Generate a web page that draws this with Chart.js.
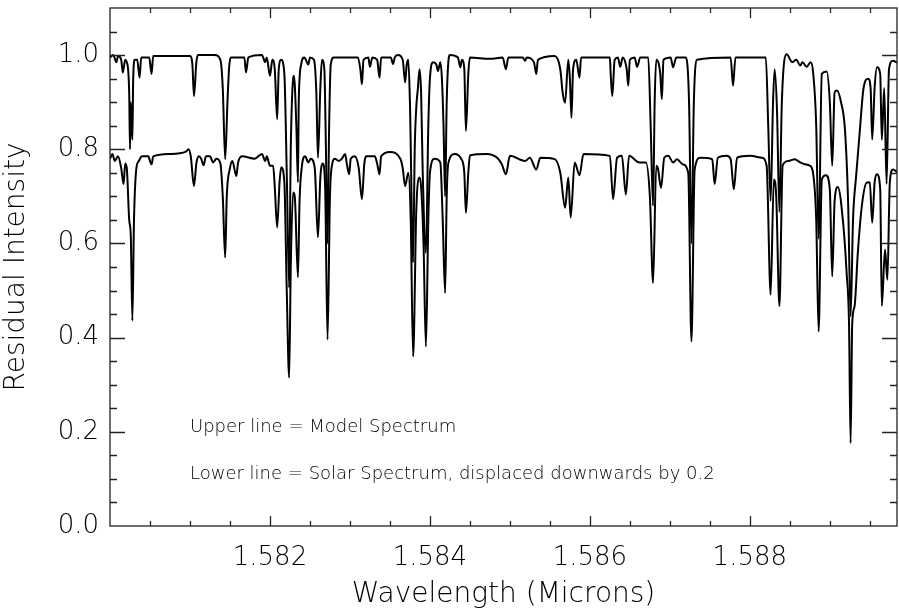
<!DOCTYPE html>
<html>
<head>
<meta charset="utf-8">
<script src="https://cdn.jsdelivr.net/npm/chart.js@4.4.1/dist/chart.umd.min.js"></script>
<style>
  html, body { margin: 0; padding: 0; background: #fff; }
</style>
</head>
<body>
<canvas id="spectrum" width="899" height="613"></canvas>
<script>
// wavelength (microns) / residual intensity
const modelWave = [
  1.58000, 1.58004, 1.58008, 1.58010, 1.58014, 1.58016, 1.58019, 1.58021, 1.58024, 1.58025,
  1.58026, 1.58028, 1.58029, 1.58031, 1.58034, 1.58037, 1.58039, 1.58049, 1.58052, 1.58054,
  1.58100, 1.58103, 1.58105, 1.58108, 1.58110, 1.58131, 1.58138, 1.58141, 1.58144, 1.58147,
  1.58149, 1.58151, 1.58168, 1.58170, 1.58173, 1.58190, 1.58194, 1.58196, 1.58200, 1.58203,
  1.58206, 1.58209, 1.58211, 1.58214, 1.58218, 1.58221, 1.58224, 1.58226, 1.58229, 1.58230,
  1.58233, 1.58235, 1.58236, 1.58239, 1.58243, 1.58248, 1.58250, 1.58255, 1.58258, 1.58260,
  1.58263, 1.58265, 1.58268, 1.58270, 1.58272, 1.58274, 1.58276, 1.58280, 1.58310, 1.58313,
  1.58315, 1.58317, 1.58323, 1.58325, 1.58328, 1.58334, 1.58337, 1.58339, 1.58351, 1.58354,
  1.58356, 1.58360, 1.58366, 1.58369, 1.58371, 1.58373, 1.58375, 1.58379, 1.58381, 1.58383,
  1.58385, 1.58387, 1.58389, 1.58391, 1.58395, 1.58398, 1.58400, 1.58404, 1.58408, 1.58410,
  1.58413, 1.58415, 1.58417, 1.58419, 1.58421, 1.58423, 1.58425, 1.58435, 1.58438, 1.58440,
  1.58443, 1.58445, 1.58448, 1.58450, 1.58475, 1.58491, 1.58495, 1.58498, 1.58516, 1.58519,
  1.58521, 1.58530, 1.58533, 1.58535, 1.58556, 1.58563, 1.58566, 1.58569, 1.58573, 1.58575,
  1.58577, 1.58579, 1.58583, 1.58587, 1.58589, 1.58625, 1.58626, 1.58628, 1.58631, 1.58635,
  1.58638, 1.58641, 1.58646, 1.58648, 1.58650, 1.58656, 1.58659, 1.58663, 1.58673, 1.58676,
  1.58679, 1.58681, 1.58683, 1.58688, 1.58690, 1.58692, 1.58701, 1.58704, 1.58708, 1.58720,
  1.58724, 1.58727, 1.58730, 1.58734, 1.58776, 1.58779, 1.58782, 1.58820, 1.58823, 1.58826,
  1.58829, 1.58831, 1.58834, 1.58837, 1.58840, 1.58846, 1.58853, 1.58858, 1.58863, 1.58866,
  1.58871, 1.58876, 1.58879, 1.58883, 1.58886, 1.58890, 1.58896, 1.58900, 1.58903, 1.58906,
  1.58909, 1.58914, 1.58919, 1.58923, 1.58926, 1.58929, 1.58933, 1.58938, 1.58942, 1.58948,
  1.58951, 1.58953, 1.58956, 1.58959, 1.58963, 1.58965, 1.58968, 1.58971, 1.58974, 1.58979,
  1.58984
];
const modelFlux = [
  0.995, 1.000, 0.985, 0.998, 0.990, 0.963, 0.990, 0.985, 0.920, 0.800,
  0.900, 0.820, 0.950, 0.990, 0.990, 0.952, 0.995, 0.995, 0.960, 0.998,
  0.998, 0.980, 0.913, 0.985, 1.000, 1.000, 0.990, 0.930, 0.779, 0.906,
  0.975, 0.995, 0.995, 0.963, 0.995, 1.000, 0.985, 0.995, 0.956, 0.990,
  0.970, 0.864, 0.970, 0.990, 0.960, 0.750, 0.506, 0.800, 0.950, 0.956,
  0.850, 0.730, 0.900, 0.980, 0.995, 0.980, 0.995, 0.990, 0.920, 0.782,
  0.930, 0.990, 0.970, 0.800, 0.600, 0.850, 0.980, 0.995, 0.995, 0.970,
  0.938, 0.990, 0.995, 0.975, 0.995, 0.990, 0.952, 0.995, 0.995, 0.981,
  0.995, 1.000, 0.990, 0.942, 0.980, 0.990, 0.900, 0.560, 0.800, 0.890,
  0.930, 0.970, 0.920, 0.750, 0.580, 0.850, 0.950, 0.985, 0.980, 0.966,
  0.985, 0.950, 0.850, 0.700, 0.900, 0.985, 1.000, 0.995, 0.974, 0.990,
  0.970, 0.839, 0.960, 0.995, 0.992, 0.995, 0.970, 0.995, 0.995, 0.988,
  0.995, 0.985, 0.960, 0.990, 0.998, 0.970, 0.920, 0.899, 0.990, 0.950,
  0.867, 0.970, 0.990, 0.952, 0.995, 0.995, 0.960, 0.913, 0.990, 0.995,
  0.975, 0.995, 0.970, 0.935, 0.990, 0.995, 0.975, 0.995, 0.995, 0.850,
  0.680, 0.900, 0.990, 0.960, 0.906, 0.990, 0.995, 0.974, 0.995, 0.995,
  0.900, 0.600, 0.900, 0.990, 0.995, 0.935, 0.995, 0.995, 0.850, 0.690,
  0.900, 0.970, 0.880, 0.667, 0.900, 1.002, 0.985, 0.990, 0.978, 0.985,
  0.975, 0.985, 0.965, 0.850, 0.610, 0.960, 0.965, 0.900, 0.765, 0.921,
  0.925, 0.900, 0.840, 0.680, 0.445, 0.650, 0.745, 0.850, 0.928, 0.950,
  0.930, 0.821, 0.930, 0.974, 0.960, 0.820, 0.930, 0.726, 0.970, 0.988,
  0.984
];

// solar spectrum as drawn (already shifted down by 0.2)
const solarWave = [
  1.58000, 1.58003, 1.58006, 1.58010, 1.58014, 1.58017, 1.58019, 1.58021, 1.58024, 1.58026,
  1.58028, 1.58030, 1.58033, 1.58036, 1.58040, 1.58048, 1.58050, 1.58052, 1.58054, 1.58075,
  1.58095, 1.58098, 1.58101, 1.58105, 1.58108, 1.58111, 1.58114, 1.58117, 1.58120, 1.58125,
  1.58129, 1.58133, 1.58138, 1.58141, 1.58144, 1.58146, 1.58150, 1.58153, 1.58158, 1.58160,
  1.58165, 1.58181, 1.58190, 1.58194, 1.58196, 1.58200, 1.58204, 1.58206, 1.58209, 1.58212,
  1.58214, 1.58218, 1.58221, 1.58224, 1.58226, 1.58229, 1.58231, 1.58235, 1.58237, 1.58240,
  1.58244, 1.58248, 1.58251, 1.58256, 1.58260, 1.58263, 1.58266, 1.58269, 1.58272, 1.58275,
  1.58278, 1.58281, 1.58286, 1.58290, 1.58294, 1.58296, 1.58299, 1.58301, 1.58306, 1.58311,
  1.58315, 1.58318, 1.58321, 1.58331, 1.58334, 1.58337, 1.58339, 1.58350, 1.58363, 1.58366,
  1.58369, 1.58373, 1.58376, 1.58379, 1.58383, 1.58387, 1.58389, 1.58392, 1.58395, 1.58398,
  1.58400, 1.58406, 1.58413, 1.58416, 1.58419, 1.58421, 1.58423, 1.58431, 1.58439, 1.58443,
  1.58445, 1.58448, 1.58450, 1.58471, 1.58484, 1.58490, 1.58495, 1.58500, 1.58519, 1.58525,
  1.58533, 1.58538, 1.58556, 1.58563, 1.58569, 1.58573, 1.58576, 1.58581, 1.58587, 1.58592,
  1.58625, 1.58629, 1.58634, 1.58640, 1.58645, 1.58649, 1.58662, 1.58670, 1.58675, 1.58679,
  1.58683, 1.58685, 1.58689, 1.58693, 1.58698, 1.58704, 1.58709, 1.58716, 1.58723, 1.58727,
  1.58731, 1.58738, 1.58753, 1.58756, 1.58760, 1.58771, 1.58776, 1.58780, 1.58784, 1.58800,
  1.58815, 1.58821, 1.58826, 1.58830, 1.58833, 1.58837, 1.58841, 1.58848, 1.58856, 1.58863,
  1.58869, 1.58875, 1.58879, 1.58883, 1.58886, 1.58890, 1.58895, 1.58900, 1.58903, 1.58906,
  1.58910, 1.58917, 1.58921, 1.58924, 1.58926, 1.58928, 1.58931, 1.58935, 1.58940, 1.58946,
  1.58950, 1.58953, 1.58956, 1.58959, 1.58963, 1.58965, 1.58969, 1.58972, 1.58975, 1.58979,
  1.58984
];
const solarFlux = [
  0.780, 0.790, 0.775, 0.785, 0.760, 0.726, 0.770, 0.760, 0.650, 0.616,
  0.436, 0.650, 0.760, 0.775, 0.785, 0.785, 0.775, 0.768, 0.785, 0.790,
  0.795, 0.800, 0.785, 0.722, 0.770, 0.785, 0.780, 0.766, 0.785, 0.785,
  0.772, 0.780, 0.770, 0.700, 0.570, 0.700, 0.760, 0.775, 0.743, 0.770,
  0.785, 0.780, 0.790, 0.775, 0.785, 0.765, 0.765, 0.720, 0.634, 0.730,
  0.762, 0.730, 0.500, 0.315, 0.550, 0.708, 0.700, 0.528, 0.690, 0.765,
  0.785, 0.772, 0.780, 0.760, 0.613, 0.740, 0.770, 0.720, 0.396, 0.700,
  0.770, 0.780, 0.775, 0.780, 0.790, 0.770, 0.747, 0.780, 0.785, 0.760,
  0.694, 0.770, 0.785, 0.785, 0.770, 0.747, 0.785, 0.794, 0.780, 0.760,
  0.722, 0.750, 0.650, 0.360, 0.672, 0.740, 0.720, 0.600, 0.381, 0.650,
  0.750, 0.780, 0.772, 0.650, 0.495, 0.700, 0.770, 0.790, 0.780, 0.750,
  0.665, 0.750, 0.787, 0.790, 0.782, 0.768, 0.747, 0.786, 0.775, 0.782,
  0.757, 0.782, 0.779, 0.750, 0.676, 0.740, 0.655, 0.772, 0.745, 0.790,
  0.786, 0.694, 0.782, 0.786, 0.704, 0.786, 0.772, 0.772, 0.700, 0.516,
  0.765, 0.760, 0.718, 0.782, 0.786, 0.772, 0.779, 0.768, 0.750, 0.392,
  0.757, 0.782, 0.779, 0.726, 0.782, 0.786, 0.779, 0.715, 0.782, 0.786,
  0.782, 0.765, 0.491, 0.736, 0.700, 0.467, 0.765, 0.775, 0.779, 0.772,
  0.768, 0.765, 0.750, 0.650, 0.413, 0.736, 0.745, 0.715, 0.530, 0.690,
  0.720, 0.637, 0.538, 0.431, 0.176, 0.430, 0.467, 0.580, 0.679, 0.729,
  0.730, 0.644, 0.729, 0.747, 0.715, 0.467, 0.587, 0.523, 0.729, 0.757,
  0.752
];

const xTickValues = [1.582, 1.584, 1.586, 1.588];
const yTickValues = [0.0, 0.2, 0.4, 0.6, 0.8, 1.0];
const notes = [
  { text: 'Upper line = Model Spectrum', x: 1.581, y: 0.2 },
  { text: 'Lower line = Solar Spectrum, displaced downwards by 0.2', x: 1.581, y: 0.1 }
];

const X_MIN = 1.58, X_MAX = 1.58984, X_MINOR = 0.0005;
const Y_MIN = 0, Y_MAX = 1.1, Y_MINOR = 0.05;
const FONT = "'DejaVu Sans', 'Liberation Sans', sans-serif";
const INK = '#000';

const toPoints = (xs, ys) => xs.map((x, i) => ({ x: x, y: ys[i] }));

// IDL style box: ticks drawn inwards on all four sides, plus the two notes
const boxAndTicks = {
  id: 'boxAndTicks',
  afterDatasetsDraw(chart) {
    const { ctx, chartArea: a, scales: { x, y } } = chart;
    ctx.save();
    ctx.strokeStyle = '#222';
    ctx.lineWidth = 1.3;
    ctx.strokeRect(a.left, a.top, a.right - a.left, a.bottom - a.top);

    ctx.beginPath();
    for (let k = 1; X_MIN + k * X_MINOR < X_MAX; k++) {
      const v = X_MIN + k * X_MINOR;
      const major = Math.abs(v / 0.002 - Math.round(v / 0.002)) < 1e-6;
      const len = major ? 10 : 5;
      const px = Math.round(x.getPixelForValue(v)) + 0.5;
      ctx.moveTo(px, a.bottom); ctx.lineTo(px, a.bottom - len);
      ctx.moveTo(px, a.top); ctx.lineTo(px, a.top + len);
    }
    for (let k = 1; Y_MIN + k * Y_MINOR < Y_MAX - 1e-9; k++) {
      const v = Y_MIN + k * Y_MINOR;
      const major = k % 4 === 0;
      const len = major ? 15 : 7;
      const py = Math.round(y.getPixelForValue(v)) + 0.5;
      ctx.moveTo(a.left, py); ctx.lineTo(a.left + len, py);
      ctx.moveTo(a.right, py); ctx.lineTo(a.right - len, py);
    }
    ctx.stroke();

    ctx.fillStyle = INK;
    ctx.font = `200 18px ${FONT}`;
    ctx.textAlign = 'left';
    ctx.textBaseline = 'alphabetic';
    notes.forEach(n => {
      ctx.fillText(n.text, x.getPixelForValue(n.x), y.getPixelForValue(n.y));
    });
    ctx.restore();
  }
};

const tickFont = { family: FONT, size: 26, weight: 200 };
const titleFont = { family: FONT, size: 28, weight: 200 };

new Chart(document.getElementById('spectrum').getContext('2d'), {
  type: 'line',
  data: {
    datasets: [
      {
        label: 'Model',
        data: toPoints(modelWave, modelFlux),
        borderColor: INK,
        borderWidth: 2,
        pointRadius: 0,
        cubicInterpolationMode: 'monotone'
      },
      {
        label: 'Solar',
        data: toPoints(solarWave, solarFlux),
        borderColor: INK,
        borderWidth: 2,
        pointRadius: 0,
        cubicInterpolationMode: 'monotone'
      }
    ]
  },
  options: {
    responsive: false,
    animation: false,
    devicePixelRatio: 1,
    layout: { padding: { top: 8, right: 2, left: 0, bottom: 0 } },
    plugins: {
      legend: { display: false },
      tooltip: { enabled: false }
    },
    scales: {
      x: {
        type: 'linear',
        min: X_MIN,
        max: X_MAX,
        afterBuildTicks: s => { s.ticks = xTickValues.map(v => ({ value: v })); },
        afterFit: s => { s.height = 87; s.paddingLeft = 0; s.paddingRight = 0; },
        grid: { display: false, drawTicks: false },
        border: { display: false },
        ticks: {
          callback: v => v.toFixed(3),
          font: tickFont,
          color: INK,
          padding: 17,
          maxRotation: 0,
          autoSkip: false
        },
        title: {
          display: true,
          text: 'Wavelength (Microns)',
          font: titleFont,
          color: INK,
          padding: { top: 0, bottom: 1 }
        }
      },
      y: {
        min: Y_MIN,
        max: Y_MAX,
        afterBuildTicks: s => { s.ticks = yTickValues.map(v => ({ value: v })); },
        afterFit: s => { s.width = 110; s.paddingTop = 0; s.paddingBottom = 0; },
        grid: { display: false, drawTicks: false },
        border: { display: false },
        ticks: {
          callback: v => v.toFixed(1),
          font: tickFont,
          color: INK,
          padding: 11
        },
        title: {
          display: true,
          text: 'Residual Intensity',
          font: titleFont,
          color: INK,
          padding: { top: 0, bottom: 0 }
        }
      }
    }
  },
  plugins: [boxAndTicks]
});
</script>
</body>
</html>
